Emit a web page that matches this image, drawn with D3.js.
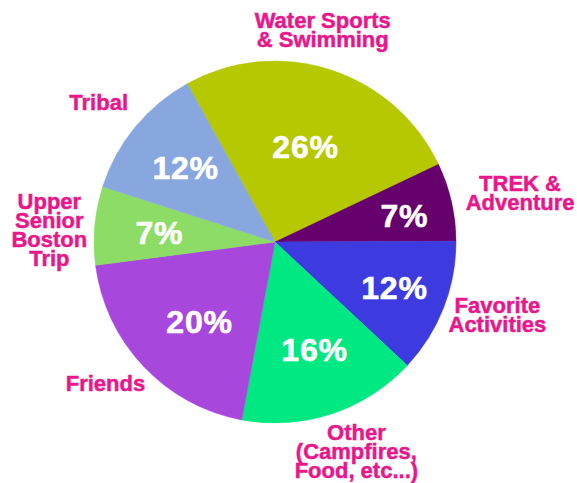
<!DOCTYPE html>
<html>
<head>
<meta charset="utf-8">
<script src="https://cdn.jsdelivr.net/npm/d3@7"></script>
<style>
  html, body { margin: 0; padding: 0; background: #ffffff; }
  svg { display: block; }
</style>
</head>
<body>
<script>
// ---- data ----
const categories = ["Water Sports & Swimming", "TREK & Adventure", "Favorite Activities",
  "Other (Campfires, Food, etc...)", "Friends", "Upper Senior Boston Trip", "Tribal"];
const labelLines = [["Water Sports", "& Swimming"], ["TREK &", "Adventure"], ["Favorite", "Activities"],
  ["Other", "(Campfires,", "Food, etc...)"], ["Friends"], ["Upper", "Senior", "Boston", "Trip"], ["Tribal"]];
const values = [26, 7, 12, 16, 20, 7, 12];
const pctLabels = ["26%", "7%", "12%", "16%", "20%", "7%", "12%"];
const colors = ["#b5c800", "#65006c", "#3c3be0", "#02e882", "#a847dc", "#8cdc66", "#89a7df"];

// ---- layout (nudges for label placement, relative to slice centroid) ----
const pctRadius = [100, 132, 128, 115, 110, 116, 116];
const pctAngleNudge = [0, 1.4, -0.4, -1.9, -3.3, -0.7, 0.2];
const outerRadius = [217, 250, 234, 225, 221, 226, 225];
const outerAngleNudge = [-5.1, 1.4, -3.3, -3, 3.5, -2.1, -1];

const W = 577, H = 483;
const cx = 275, cy = 242, R = 181;
const startDeg = -29;

const svg = d3.select("body").append("svg").attr("width", W).attr("height", H);
const defs = svg.append("defs");
defs.append("filter").attr("id", "soft").append("feGaussianBlur").attr("stdDeviation", 0.7);

const g = svg.append("g").attr("transform", `translate(${cx},${cy})`);

const pie = d3.pie().sort(null).value(d => d)
  .startAngle(startDeg * Math.PI / 180)
  .endAngle((startDeg + 360) * Math.PI / 180);
const arcs = pie(values);
const arc = d3.arc().innerRadius(0).outerRadius(R);

g.append("g").attr("filter", "url(#soft)")
  .selectAll("path").data(arcs).join("path")
  .attr("d", arc)
  .attr("fill", (d, i) => colors[i])
  .attr("stroke", (d, i) => colors[i])
  .attr("stroke-width", 0.5);

function polar(a, r) { return [Math.sin(a) * r, -Math.cos(a) * r]; }
const rad = Math.PI / 180;

// percent labels
g.selectAll("text.pct").data(arcs).join("text")
  .attr("class", "pct")
  .each(function (d, i) {
    const mid = (d.startAngle + d.endAngle) / 2 + pctAngleNudge[i] * rad;
    const [x, y] = polar(mid, pctRadius[i]);
    d3.select(this).attr("x", x).attr("y", y);
  })
  .attr("text-anchor", "middle")
  .attr("dominant-baseline", "central")
  .attr("font-family", "'Liberation Sans', Arial, sans-serif")
  .attr("font-weight", "bold")
  .attr("font-size", 32)
  .attr("letter-spacing", 0.8)
  .attr("fill", "#ffffff")
  .attr("stroke", "#ffffff")
  .attr("stroke-width", 0.6)
  .text((d, i) => pctLabels[i]);

// category labels
const lineH = 19;
g.selectAll("text.cat").data(arcs).join("text")
  .attr("class", "cat")
  .attr("text-anchor", "middle")
  .attr("font-family", "'Liberation Sans', Arial, sans-serif")
  .attr("font-weight", "bold")
  .attr("font-size", 22)
  .attr("letter-spacing", 0)
  .attr("fill", "#e8178c")
  .attr("stroke", "#e8178c")
  .attr("stroke-width", 0.5)
  .each(function (d, i) {
    const mid = (d.startAngle + d.endAngle) / 2 + outerAngleNudge[i] * rad;
    const [x, y] = polar(mid, outerRadius[i]);
    const lines = labelLines[i];
    const y0 = y - (lines.length - 1) * lineH / 2;
    d3.select(this).selectAll("tspan").data(lines).join("tspan")
      .attr("x", x)
      .attr("y", (l, k) => y0 + k * lineH)
      .attr("dominant-baseline", "central")
      .text(l => l);
  });
</script>
</body>
</html>
